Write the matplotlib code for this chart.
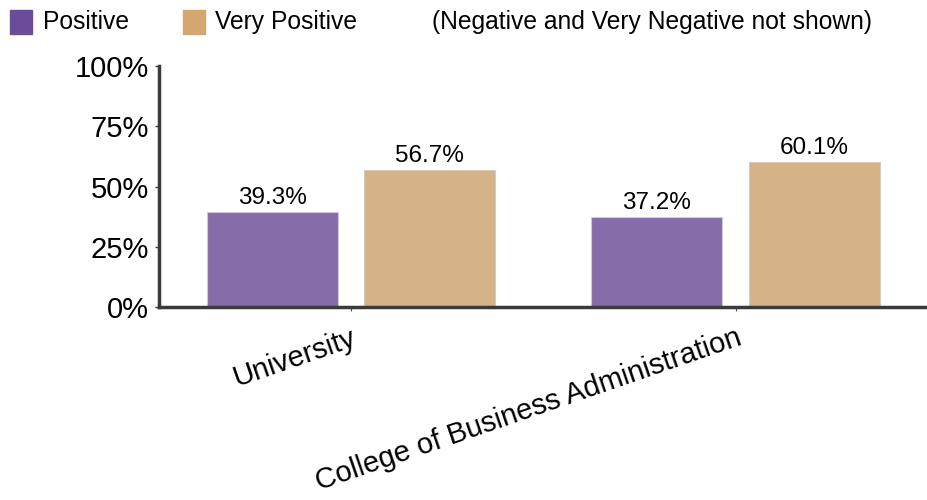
import numpy as np
import matplotlib.pyplot as plt
from matplotlib.patches import Rectangle

categories = ["University", "College of Business Administration"]
positive = [39.3, 37.2]
very_positive = [56.7, 60.1]
series_names = ["Positive", "Very Positive"]
yticks = [0, 25, 50, 75, 100]

plt.rcParams['font.family'] = ['Liberation Sans', 'DejaVu Sans']

fig = plt.figure(figsize=(9.28, 5.0), dpi=100)
ax = fig.add_axes([0.171, 0.386, 0.829, 0.482])

x = np.arange(len(categories))
w = 0.34
b1 = ax.bar(x - 0.205, positive, w, color='#866ca8', edgecolor='#cccccc', linewidth=0.8)
b2 = ax.bar(x + 0.205, very_positive, w, color='#d5b386', edgecolor='#cccccc', linewidth=0.8)

for bars, vals in [(b1, positive), (b2, very_positive)]:
    for r, v in zip(bars, vals):
        ax.text(r.get_x() + r.get_width() / 2, v + 1.2, f"{v:.1f}%",
                ha='center', va='bottom', fontsize=17.5)

ax.set_xlim(-0.5, 1.5)
ax.set_ylim(0, 100)
ax.set_yticks(yticks)
ax.set_yticklabels([f"{t}%" for t in yticks], fontsize=21)
ax.set_xticks(x)
ax.set_xticklabels(categories, fontsize=21, rotation=19, ha='right', rotation_mode='anchor')

for s in ['top', 'right']:
    ax.spines[s].set_visible(False)
for s in ['left', 'bottom']:
    ax.spines[s].set_color('#3a3a3a')
    ax.spines[s].set_linewidth(2.5)
ax.tick_params(axis='y', length=3, width=1, color='#3a3a3a', pad=4)
ax.tick_params(axis='x', length=3, width=0.8, color='#555555', pad=9)

# legend row at the top
fig.patches.append(Rectangle((10 / 928, 1 - 34 / 500), 22 / 928, 24 / 500,
                             transform=fig.transFigure, color='#6b4c9a'))
fig.text(43 / 928, 1 - 22 / 500, series_names[0], fontsize=17.7, va='center')
fig.patches.append(Rectangle((183 / 928, 1 - 34 / 500), 22 / 928, 24 / 500,
                             transform=fig.transFigure, color='#d3a76d'))
fig.text(215 / 928, 1 - 22 / 500, series_names[1], fontsize=17.7, va='center')
fig.text(432 / 928, 1 - 22 / 500, "(Negative and Very Negative not shown)", fontsize=17.7, va='center')

fig.savefig('out.png', dpi=100)
